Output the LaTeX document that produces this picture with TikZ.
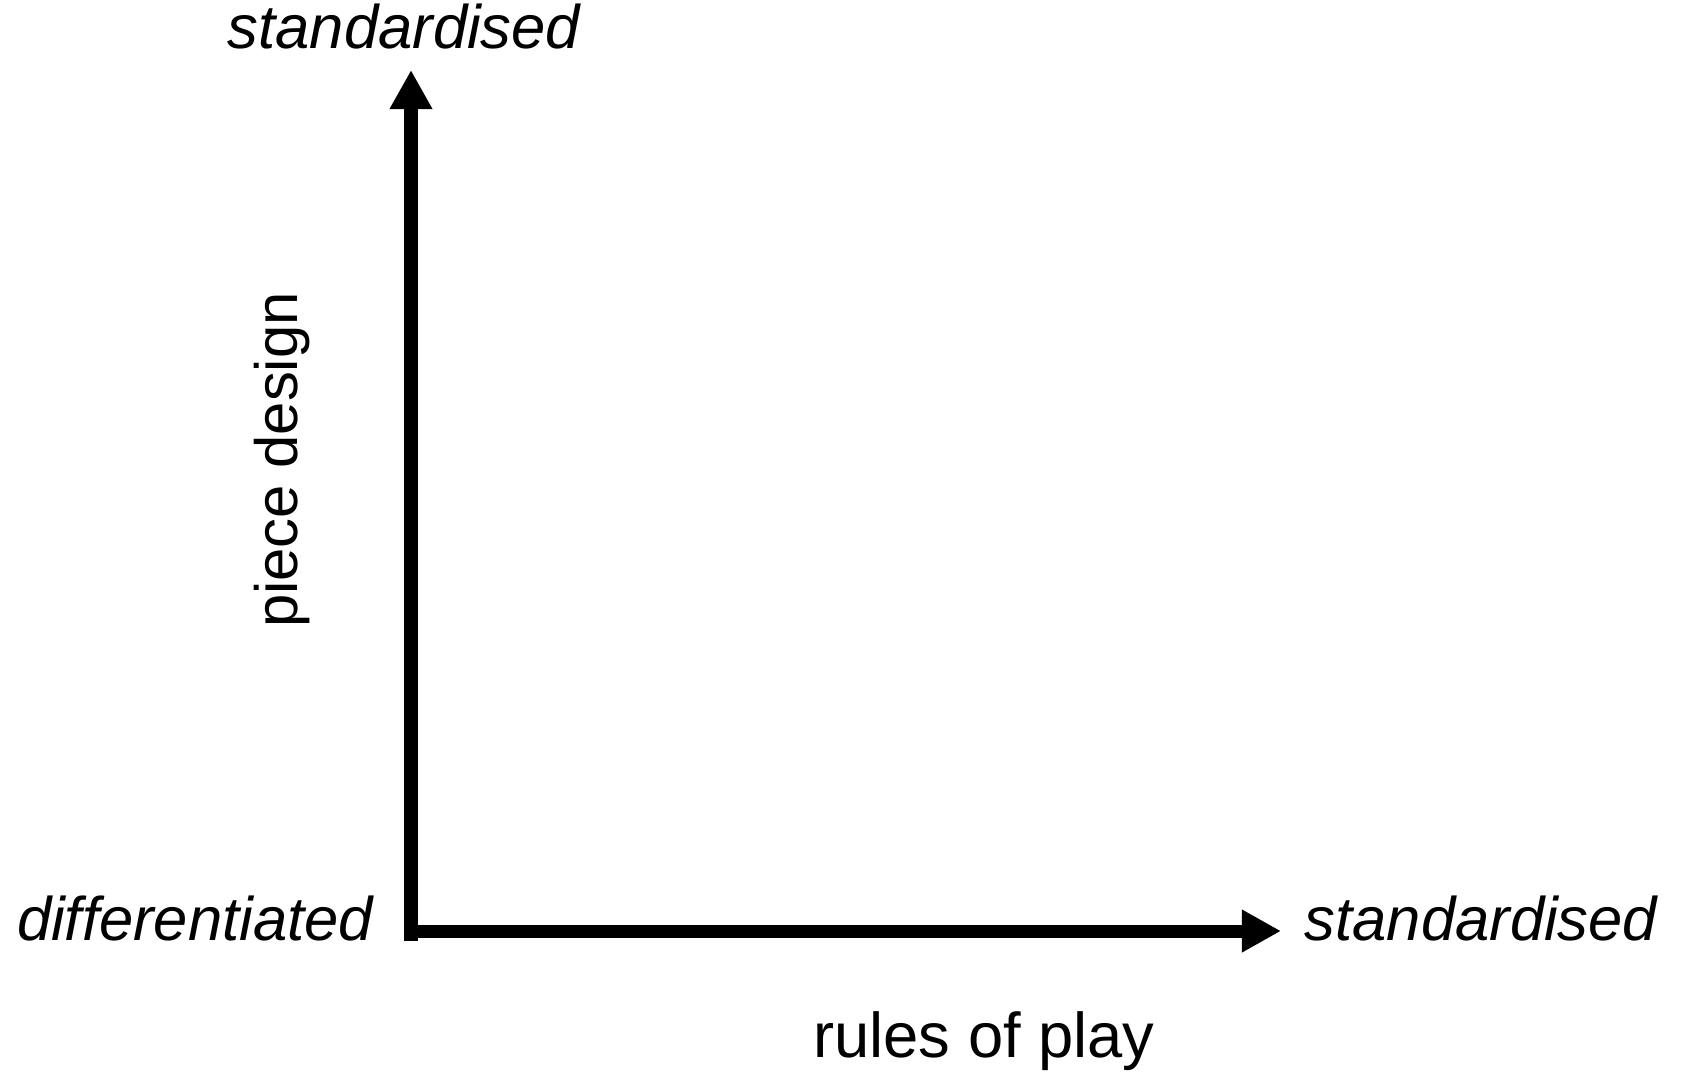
\documentclass[tikz,border=0pt]{standalone}
\usepackage{fontspec}
\setmainfont{Liberation Sans}
\usetikzlibrary{arrows.meta}

\tikzset{
    axis/.style={line width=0.13cm, -{Triangle[length=0.39cm, width=0.40cm]}},
    pole/.style={font=\fontsize{17.5}{21}\selectfont\itshape, inner sep=0pt, anchor=base},
    title/.style={font=\fontsize{18}{22}\selectfont, inner sep=0pt, anchor=base},
}

\begin{document}
\begin{tikzpicture}[x=0.01cm, y=-0.01cm]
        \useasboundingbox (0,0) rectangle (1681,1075);
        \coordinate (vbase) at (411,941);
        \coordinate (vtop) at (411,70);
        \coordinate (hbase) at (404,931);
        \coordinate (hend) at (1281,931);
        \draw [axis] (vbase) -- (vtop);
        \draw [axis] (hbase) -- (hend);
        \node (ytop) [pole] at (404,48) {standardised};
        \node (xlow) [pole] at (195,940) {differentiated};
        \node (xtop) [pole] at (1481,940) {standardised};
        \node (ylabel) [title, font=\fontsize{17}{21}\selectfont, rotate=90] at (297,460) {piece design};
        \node (xlabel) [title] at (984,1057) {rules of play};
    \end{tikzpicture}
\end{document}
